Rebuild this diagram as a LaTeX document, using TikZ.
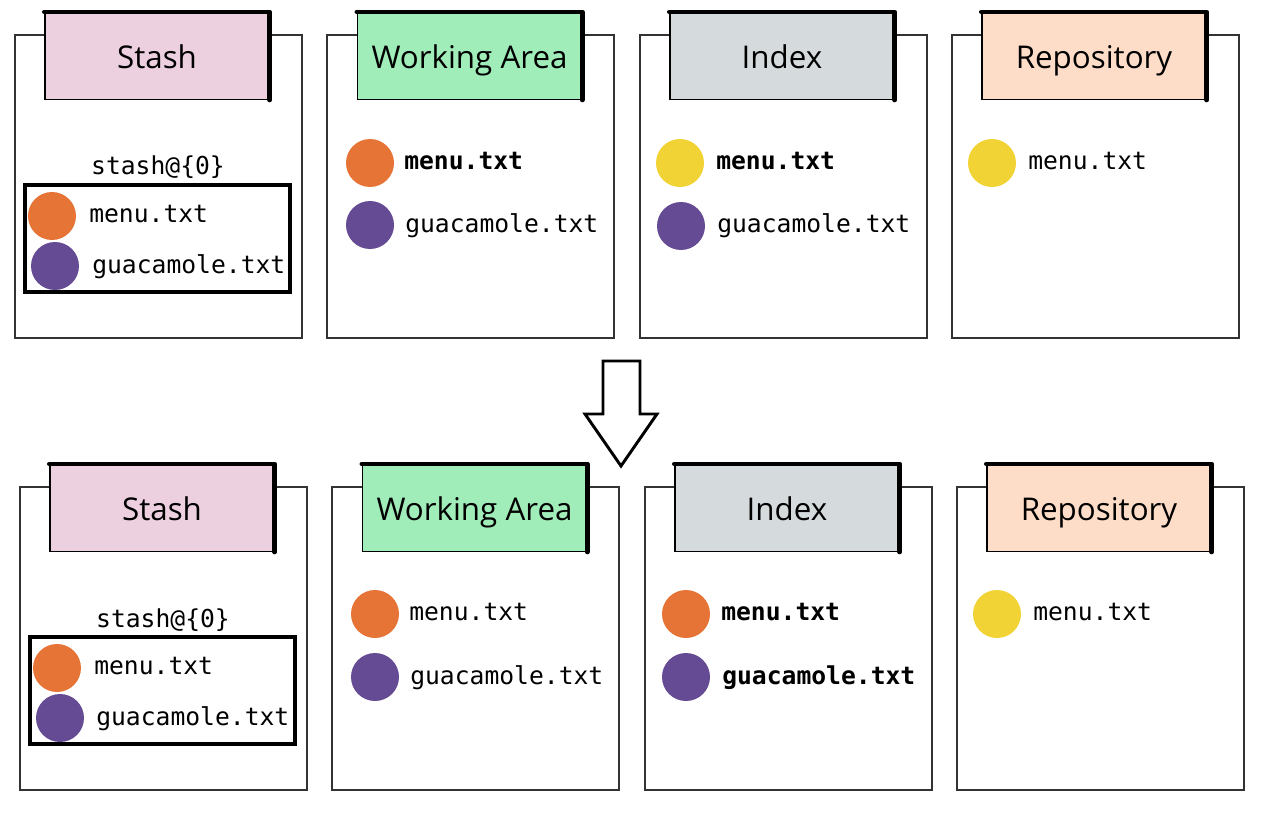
\documentclass[tikz,border=0pt]{standalone}
\usepackage{fontspec}
\setmainfont{Open Sans}
\setmonofont{DejaVu Sans Mono}
\usepackage{tikz}

\definecolor{stashpink}{HTML}{ECD0DF}
\definecolor{workgreen}{HTML}{A1EDBA}
\definecolor{indexgray}{HTML}{D5DADC}
\definecolor{repopeach}{HTML}{FDDCC8}
\definecolor{orangeblob}{HTML}{E67436}
\definecolor{purpleblob}{HTML}{654A94}
\definecolor{yellowblob}{HTML}{F2D335}

\begin{document}
\begin{tikzpicture}[x=0.75pt, y=-0.75pt,
    panel/.style = {draw=black!80, line width=1.4pt, minimum width=215pt, minimum height=227pt, inner sep=0pt},
    tab/.style = {draw, line width=1pt, minimum width=168pt, minimum height=65pt, inner sep=0pt, text height=19pt, text depth=0pt, font=\fontsize{23.5}{28}\selectfont},
    tabedge/.style = {line width=3.5pt, line cap=round, line join=round},
    blob/.style = {circle, minimum size=36pt, inner sep=0pt},
    file/.style = {anchor=base west, inner sep=0pt, font=\ttfamily\fontsize{18.5}{22}\selectfont},
    boldfile/.style = {file, font=\ttfamily\bfseries\fontsize{18.5}{22}\selectfont},
    stashbox/.style = {draw, line width=3pt, minimum width=199pt, minimum height=80pt, inner sep=0pt}]
\useasboundingbox (0,0) rectangle (1261,817);

% top row
\node[panel] (stash1) at (158.5,186.5) {};
\node[panel] (work1) at (470.5,186.5) {};
\node[panel] (index1) at (783.5,186.5) {};
\node[panel] (repo1) at (1095.5,186.5) {};

\node[tab, fill=stashpink] (stash1tab) at (157,56) {Stash};
\node[tab, fill=workgreen] (work1tab) at (469.5,56) {Working Area};
\node[tab, fill=indexgray] (index1tab) at (782,56) {Index};
\node[tab, fill=repopeach] (repo1tab) at (1094,56) {Repository};
\draw[tabedge] (stash1tab.north west) -- (stash1tab.north east) -- (stash1tab.south east);
\draw[tabedge] (work1tab.north west) -- (work1tab.north east) -- (work1tab.south east);
\draw[tabedge] (index1tab.north west) -- (index1tab.north east) -- (index1tab.south east);
\draw[tabedge] (repo1tab.north west) -- (repo1tab.north east) -- (repo1tab.south east);

\node[file, anchor=base] (stash1name) at (158,175) {stash@\{0\}};
\node[stashbox] (stash1box) at (157.5,238.5) {};
\node[blob, fill=orangeblob] (stash1b1) at (52,216) {};
\node[file] (stash1f1) at (89,222) {menu.txt};
\node[blob, fill=purpleblob] (stash1b2) at (55,266) {};
\node[file] (stash1f2) at (92,273) {guacamole.txt};

\node[blob, fill=orangeblob] (work1b1) at (370,163) {};
\node[boldfile] (work1f1) at (404,169) {menu.txt};
\node[blob, fill=purpleblob] (work1b2) at (370,225) {};
\node[file] (work1f2) at (405,232) {guacamole.txt};

\node[blob, fill=yellowblob] (index1b1) at (680,163) {};
\node[boldfile] (index1f1) at (716,169) {menu.txt};
\node[blob, fill=purpleblob] (index1b2) at (681,226) {};
\node[file] (index1f2) at (717,232) {guacamole.txt};

\node[blob, fill=yellowblob] (repo1b1) at (992,163) {};
\node[file] (repo1f1) at (1028,169) {menu.txt};

% arrow between the two states
\draw[line width=2.2pt, line join=miter] (603,361) -- (640,361) -- (640,414) -- (657,414) -- (621,466) -- (585,414) -- (603,414) -- cycle;

% bottom row
\node[panel] (stash2) at (163.5,638.5) {};
\node[panel] (work2) at (475.5,638.5) {};
\node[panel] (index2) at (788.5,638.5) {};
\node[panel] (repo2) at (1100.5,638.5) {};

\node[tab, fill=stashpink] (stash2tab) at (162,508) {Stash};
\node[tab, fill=workgreen] (work2tab) at (474.5,508) {Working Area};
\node[tab, fill=indexgray] (index2tab) at (787,508) {Index};
\node[tab, fill=repopeach] (repo2tab) at (1099,508) {Repository};
\draw[tabedge] (stash2tab.north west) -- (stash2tab.north east) -- (stash2tab.south east);
\draw[tabedge] (work2tab.north west) -- (work2tab.north east) -- (work2tab.south east);
\draw[tabedge] (index2tab.north west) -- (index2tab.north east) -- (index2tab.south east);
\draw[tabedge] (repo2tab.north west) -- (repo2tab.north east) -- (repo2tab.south east);

\node[file, anchor=base] (stash2name) at (163,627) {stash@\{0\}};
\node[stashbox] (stash2box) at (162.5,690.5) {};
\node[blob, fill=orangeblob] (stash2b1) at (57,668) {};
\node[file] (stash2f1) at (94,674) {menu.txt};
\node[blob, fill=purpleblob] (stash2b2) at (60,718) {};
\node[file] (stash2f2) at (96,725) {guacamole.txt};

\node[blob, fill=orangeblob] (work2b1) at (375,614) {};
\node[file] (work2f1) at (409,620) {menu.txt};
\node[blob, fill=purpleblob] (work2b2) at (375,677) {};
\node[file] (work2f2) at (410,684) {guacamole.txt};

\node[blob, fill=orangeblob] (index2b1) at (686,614) {};
\node[boldfile] (index2f1) at (721,620) {menu.txt};
\node[blob, fill=purpleblob] (index2b2) at (686,677) {};
\node[boldfile] (index2f2) at (722,684) {guacamole.txt};

\node[blob, fill=yellowblob] (repo2b1) at (997,614) {};
\node[file] (repo2f1) at (1033,620) {menu.txt};
\end{tikzpicture}
\end{document}
